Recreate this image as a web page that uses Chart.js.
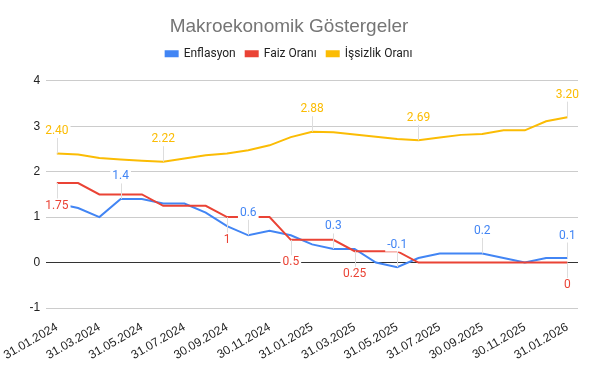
<!DOCTYPE html>
<html>
<head>
<meta charset="utf-8">
<script src="https://cdn.jsdelivr.net/npm/chart.js@4.4.1/dist/chart.umd.min.js"></script>
<style>
  html, body { margin: 0; padding: 0; background: #fff; }
  #wrap { width: 596px; height: 366px; position: relative; }
</style>
</head>
<body>
<div id="wrap"><canvas id="c" width="596" height="366"></canvas></div>
<script>
// ---- Data ----
const dates = [
  "31.01.2024","29.02.2024","31.03.2024","30.04.2024","31.05.2024","30.06.2024",
  "31.07.2024","31.08.2024","30.09.2024","31.10.2024","30.11.2024","31.12.2024",
  "31.01.2025","28.02.2025","31.03.2025","30.04.2025","31.05.2025","30.06.2025",
  "31.07.2025","31.08.2025","30.09.2025","31.10.2025","30.11.2025","31.12.2025",
  "31.01.2026"
];
const enflasyon = [1.3, 1.2, 1.0, 1.4, 1.4, 1.3, 1.3, 1.1, 0.8, 0.6, 0.7, 0.6,
                   0.4, 0.3, 0.3, 0.0, -0.1, 0.1, 0.2, 0.2, 0.2, 0.1, 0.0, 0.1, 0.1];
const faizOrani = [1.75, 1.75, 1.5, 1.5, 1.5, 1.25, 1.25, 1.25, 1.0, 1.0, 1.0, 0.5,
                   0.5, 0.5, 0.25, 0.25, 0.25, 0, 0, 0, 0, 0, 0, 0, 0];
const issizlik = [2.40, 2.38, 2.30, 2.27, 2.24, 2.22, 2.29, 2.36, 2.40, 2.47, 2.58, 2.76,
                  2.88, 2.87, 2.82, 2.77, 2.72, 2.69, 2.75, 2.81, 2.83, 2.91, 2.91, 3.11, 3.20];
const yTicks = [-1, 0, 1, 2, 3, 4];
// indices of points that carry a value label
const enflasyonLabelIdx = [3, 9, 13, 16, 20, 24];
const faizLabelIdx = [0, 8, 11, 14, 24];
const issizlikLabelIdx = [0, 5, 12, 17, 24];

const BLUE = '#4285F4', RED = '#EA4335', YELLOW = '#FBBC04';
const FONT = 'Roboto, "Liberation Sans", Arial, sans-serif';
const AXFONT = '"Liberation Sans", Arial, sans-serif';

const spacerPlugin = {
  id: 'spacer',
  beforeInit(chart) {
    Chart.layouts.addBox(chart, {
      position: 'top', weight: 0, fullSize: true, options: {},
      left: 0, top: 0, right: 0, bottom: 0, width: 0, height: 0,
      isHorizontal() { return true; },
      update(maxW) { this.width = maxW; this.height = 11; return { width: maxW, height: 11 }; },
      draw() {}
    });
  }
};

const labelPlugin = {
  id: 'valueLabels',
  afterDatasetsDraw(chart) {
    const ctx = chart.ctx;
    const specs = [
      { ds: 2, idx: issizlikLabelIdx, dir: -1, fmt: v => v.toFixed(2) },
      { ds: 1, idx: faizLabelIdx, dir: 1, fmt: v => String(v) },
      { ds: 0, idx: enflasyonLabelIdx, dir: -1, fmt: v => String(v) }
    ];
    ctx.save();
    ctx.font = '12px ' + FONT;
    ctx.textAlign = 'center';
    ctx.textBaseline = 'middle';
    specs.forEach(s => {
      const meta = chart.getDatasetMeta(s.ds);
      s.idx.forEach(i => {
        const p = meta.data[i];
        const ty = p.y + s.dir * 22.5;
        ctx.strokeStyle = '#dddddd';
        ctx.lineWidth = 1;
        ctx.beginPath();
        ctx.moveTo(Math.round(p.x) + 0.5, p.y);
        ctx.lineTo(Math.round(p.x) + 0.5, ty - s.dir * 6);
        ctx.stroke();
      });
    });
    specs.forEach(s => {
      const meta = chart.getDatasetMeta(s.ds);
      const color = chart.data.datasets[s.ds].borderColor;
      s.idx.forEach(i => {
        const p = meta.data[i];
        const v = chart.data.datasets[s.ds].data[i];
        const txt = s.fmt(v);
        const ty = p.y + s.dir * 22.5;
        const w = ctx.measureText(txt).width;
        ctx.fillStyle = '#ffffff';
        ctx.fillRect(p.x - w / 2 - 2, ty - 7, w + 4, 14);
        ctx.fillStyle = color;
        ctx.fillText(txt, p.x, ty);
      });
    });
    ctx.restore();
  }
};

new Chart(document.getElementById('c'), {
  type: 'line',
  data: {
    labels: dates,
    datasets: [
      { label: 'Enflasyon', data: enflasyon, borderColor: BLUE, backgroundColor: BLUE, order: 1 },
      { label: 'Faiz Oranı', data: faizOrani, borderColor: RED, backgroundColor: RED, order: 0 },
      { label: 'İşsizlik Oranı', data: issizlik, borderColor: YELLOW, backgroundColor: YELLOW, order: 2 }
    ]
  },
  options: {
    responsive: false,
    animation: false,
    devicePixelRatio: 1,
    layout: { padding: { left: 0, right: 18, top: 0, bottom: 0 } },
    elements: {
      line: { borderWidth: 2, tension: 0 },
      point: { radius: 0, hoverRadius: 0 }
    },
    plugins: {
      title: {
        display: true,
        text: 'Makroekonomik Göstergeler',
        color: '#757575',
        font: { family: AXFONT, size: 19, weight: 'normal' },
        padding: { top: 15, bottom: 0 }
      },
      legend: {
        display: true,
        labels: {
          color: '#222222',
          font: { family: FONT, size: 12 },
          boxWidth: 12,
          boxHeight: 5,
          padding: 10,
          sort: (a, b) => a.datasetIndex - b.datasetIndex
        }
      },
      tooltip: { enabled: false }
    },
    scales: {
      x: {
        offset: true,
        grid: { display: false },
        border: { display: false },
        ticks: {
          autoSkip: false,
          minRotation: 30,
          maxRotation: 30,
          color: '#222222',
          font: { family: AXFONT, size: 12 },
          padding: 4,
          callback: function (v, i) { return i % 2 === 0 ? dates[i] : ''; }
        },
        afterFit: s => { s.height = 58; }
      },
      y: {
        min: -1,
        max: 4,
        afterBuildTicks: s => { s.ticks = yTicks.map(v => ({ value: v })); },
        grid: {
          drawTicks: false,
          color: ctx => (ctx.tick && ctx.tick.value === 0) ? '#333333' : '#cccccc',
          lineWidth: 1
        },
        border: { display: false },
        ticks: {
          color: '#222222',
          font: { family: AXFONT, size: 12 },
          padding: 6
        },
        afterFit: s => { s.width = 41; }
      }
    }
  },
  plugins: [spacerPlugin, labelPlugin]
});
</script>
</body>
</html>
